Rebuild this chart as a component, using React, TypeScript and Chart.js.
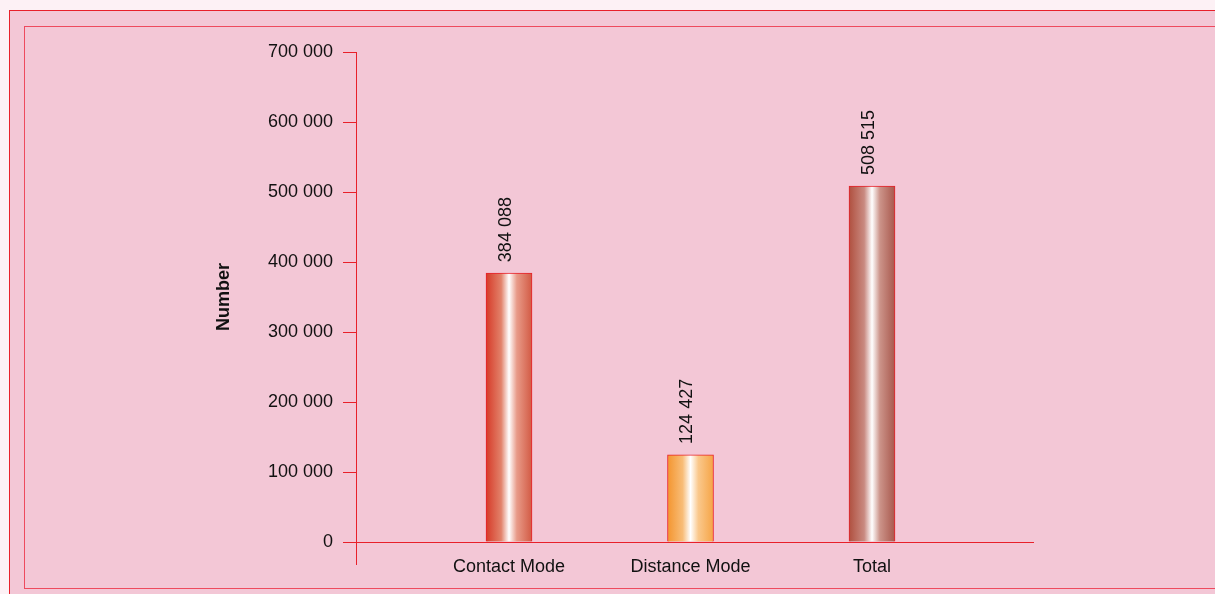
import React, { useEffect, useRef } from "react";
import { Chart, registerables } from "chart.js";

Chart.register(...registerables);

const categories = ["Contact Mode", "Distance Mode", "Total"];
const values = [384088, 124427, 508515];
const yTicks = [0, 100000, 200000, 300000, 400000, 500000, 600000, 700000];
const gradientLeft = ["#d63a28", "#f4952f", "#b0503f"];
const gradientLeftMid = ["#e2826a", "#f8bd78", "#c98a80"];
const gradientRightMid = ["#e89a88", "#fac88c", "#cc948a"];
const gradientRight = ["#d25a44", "#f6a445", "#a8574c"];

const RED = "#e8202a";
const FONT = "'Liberation Sans', Arial, Helvetica, sans-serif";

const fmt = (n: number) => String(n).replace(/\B(?=(\d{3})+(?!\d))/g, " ");

const extras = {
  id: "extras",
  afterDatasetsDraw(chart: any) {
    const { ctx, chartArea } = chart;
    // y axis extension below x axis
    ctx.save();
    ctx.strokeStyle = RED;
    ctx.lineWidth = 1;
    ctx.beginPath();
    ctx.moveTo(chartArea.left + 0.5, chartArea.bottom);
    ctx.lineTo(chartArea.left + 0.5, chartArea.bottom + 23);
    ctx.stroke();
    ctx.restore();
    // rotated value labels
    const meta = chart.getDatasetMeta(0);
    meta.data.forEach((bar: any, i: number) => {
      ctx.save();
      ctx.translate(bar.x - 3, bar.y - 11);
      ctx.rotate(-Math.PI / 2);
      ctx.font = `18px ${FONT}`;
      ctx.fillStyle = "#111111";
      ctx.textAlign = "left";
      ctx.textBaseline = "middle";
      ctx.fillText(fmt(values[i]), 0, 0);
      ctx.restore();
    });
  },
};

export default function App() {
  const ref = useRef<HTMLCanvasElement | null>(null);

  useEffect(() => {
    if (!ref.current) return;
    const half = 23;
    const chart = new Chart(ref.current, {
      type: "bar",
      data: {
        datasets: [
          {
            data: values.map((v, i) => ({ x: i, y: v })),
            barThickness: 46,
            borderColor: RED,
            borderWidth: 1,
            backgroundColor: (c: any) => {
              const ch = c.chart;
              const xs = ch.scales && ch.scales.x;
              const i = c.dataIndex ?? 0;
              if (!xs || !ch.chartArea) return gradientLeft[i];
              const cx = xs.getPixelForValue(i);
              const g = ch.ctx.createLinearGradient(cx - half, 0, cx + half, 0);
              g.addColorStop(0, gradientLeft[i]);
              g.addColorStop(0.33, gradientLeftMid[i]);
              g.addColorStop(0.5, "#ffffff");
              g.addColorStop(0.67, gradientRightMid[i]);
              g.addColorStop(1, gradientRight[i]);
              return g;
            },
          },
        ],
      },
      options: {
        animation: false,
        responsive: true,
        maintainAspectRatio: false,
        layout: { padding: { left: 209, top: 52, right: 182, bottom: 12 } },
        plugins: { legend: { display: false }, tooltip: { enabled: false } },
        scales: {
          x: {
            type: "linear",
            offset: false,
            min: -0.843,
            max: 2.887,
            grid: { display: false, drawTicks: false, offset: false },
            border: { display: true, color: RED, width: 1 },
            afterBuildTicks: (s: any) => {
              s.ticks = categories.map((_, i) => ({ value: i }));
            },
            afterFit: (s: any) => {
              s.height = 40;
            },
            ticks: {
              autoSkip: false,
              maxRotation: 0,
              padding: 14,
              color: "#111111",
              font: { size: 18, family: FONT },
              callback: (v: any) => categories[v] ?? "",
            },
          },
          y: {
            min: 0,
            max: 700000,
            afterBuildTicks: (s: any) => {
              s.ticks = yTicks.map((v) => ({ value: v }));
            },
            afterFit: (s: any) => {
              s.width = 147;
            },
            grid: {
              display: true,
              drawOnChartArea: false,
              drawTicks: true,
              tickLength: 13,
              color: RED,
            },
            border: { display: true, color: RED, width: 1 },
            ticks: {
              padding: 10,
              color: "#111111",
              font: { size: 18, family: FONT },
              callback: (v: any) => fmt(Number(v)),
            },
            title: {
              display: true,
              text: "Number",
              color: "#111111",
              padding: { top: 4, bottom: 31 },
              font: { size: 18, weight: "bold", family: FONT },
            },
          },
        },
      },
      plugins: [extras],
    } as any);
    return () => chart.destroy();
  }, []);

  return (
    <div
      style={{
        position: "fixed",
        left: 0,
        top: 0,
        width: 1215,
        height: 594,
        background: "#fdf1f5",
        overflow: "hidden",
      }}
    >
      <div
        style={{
          position: "absolute",
          left: 9,
          top: 10,
          width: 1300,
          height: 700,
          background: "#f3c7d6",
          borderTop: `1px solid ${RED}`,
          borderLeft: `1px solid ${RED}`,
        }}
      />
      <div
        style={{
          position: "absolute",
          left: 24,
          top: 26,
          width: 1300,
          height: 561,
          border: "1px solid #ee4a5e",
        }}
      />
      <div style={{ position: "absolute", left: 0, top: 0, width: 1215, height: 594 }}>
        <canvas ref={ref} />
      </div>
    </div>
  );
}
